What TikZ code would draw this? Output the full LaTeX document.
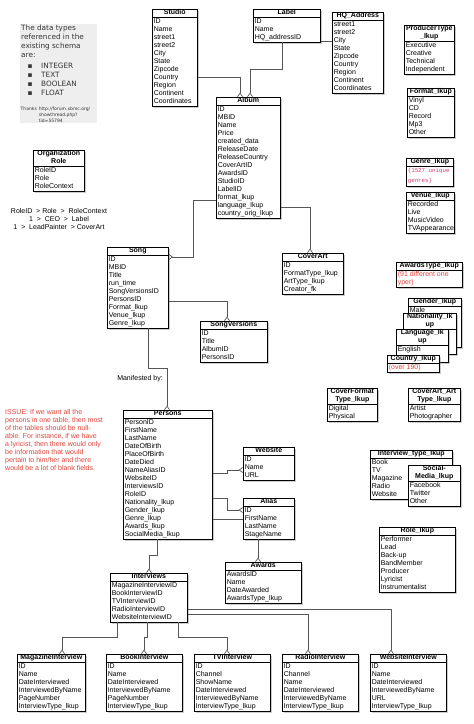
\documentclass[tikz,border=0pt]{standalone}
\usepackage{fontspec}
\setmainfont{Liberation Sans}
\newfontfamily\notefont{DejaVu Sans}
\newfontfamily\codefont{Liberation Mono}
\usetikzlibrary{arrows.meta,shadows}
\setlength{\arrayrulewidth}{0.6pt}
\definecolor{issuered}{HTML}{E2453C}
\definecolor{genrered}{HTML}{D8386A}
\definecolor{notebg}{HTML}{EEEEEE}
\definecolor{conncol}{HTML}{555555}
\definecolor{notetext}{HTML}{333333}
\newcommand{\ertab}[3]{%
\begin{tabular}{@{\hspace{1.5pt}}p{\dimexpr#1pt-1.5pt\relax}@{}}%
\multicolumn{1}{@{}c@{}}{\bfseries\begin{tabular}{@{}c@{}}#2\end{tabular}}\\\hline
#3
\end{tabular}}
\newcommand{\redtxt}[1]{\textcolor{issuered}{#1}}
\newcommand{\codetxt}[1]{\leavevmode{\codefont\fontsize{5.8}{8}\selectfont\textcolor{genrered}{#1}}}
\begin{document}
\begin{tikzpicture}[x=1pt,y=-1pt,
  tbl/.style={draw=black, line width=0.6pt, fill=white, inner sep=0pt, anchor=north west,
    font=\fontsize{7}{8}\selectfont,
    drop shadow={shadow xshift=1.2pt, shadow yshift=-1.6pt, opacity=0.4}},
  link/.style={draw=conncol, line width=0.7pt},
  manyend/.style={-{Straight Barb[reversed,length=3.5pt,width=5pt]}},
  notetxt/.style={inner sep=0pt, anchor=north west, text=notetext, font=\notefont\fontsize{7.3}{9.2}\selectfont},
  plaintxt/.style={inner sep=0pt, font=\fontsize{7}{8}\selectfont}]
\useasboundingbox (0,0) rectangle (474,724);
\fill[white] (0,0) rectangle (474,724);

% ---------- note box ----------
\node[fill=notebg, inner sep=0pt, anchor=north west, minimum width=77pt, minimum height=99pt] (note) at (20,24) {};
\node[notetxt, align=left] (notehead) at (21,24.5) {The data types\\referenced in the\\existing schema\\are:};
\node[notetxt] (notelist) at (27.5,61.5) {\begin{tabular}{@{}p{13.5pt}@{}l@{}}▪&INTEGER\\▪&TEXT\\▪&BOOLEAN\\▪&FLOAT\end{tabular}};
\node[notetxt, font=\notefont\fontsize{4.5}{6}\selectfont] (notethanks) at (20.5,106) {\begin{tabular}{@{}l@{\hspace{2pt}}l@{}}Thanks&http://forum.xbmc.org/\\&showthread.php?\\&tid=55794\end{tabular}};

% ---------- tables ----------
\node[tbl] (studio) at (152,9) {\ertab{45}{Studio}{ID\\Name\\street1\\street2\\City\\State\\Zipcode\\Country\\Region\\Continent\\Coordinates}};
\node[tbl] (label) at (253,9) {\ertab{67}{Label}{ID\\Name\\HQ\_addressID}};
\node[tbl] (hq) at (332,12) {\ertab{51}{HQ\_Address}{street1\\street2\\City\\State\\Zipcode\\Country\\Region\\Continent\\Coordinates}};
\node[tbl] (album) at (216,97) {\ertab{64}{Album}{ID\\MBID\\Name\\Price\\created\_data\\ReleaseDate\\ReleaseCountry\\CoverArtID\\AwardsID\\StudioID\\LabelID\\format\_lkup\\language\_lkup\\country\_orig\_lkup}};

\node[tbl] (producer) at (404,25) {\ertab{50}{ProducerType\\\_lkup}{Executive\\Creative\\Technical\\Independent}};
\node[tbl] (format) at (407,88) {\ertab{47}{Format\_lkup}{Vinyl\\CD\\Record\\Mp3\\Other}};
\node[tbl] (genre) at (406,158) {\ertab{47}{Genre\_lkup}{\codetxt{\{1527 unique}\rule[-4pt]{0pt}{4pt}\\\codetxt{genres\}}\rule[-4pt]{0pt}{4pt}}};
\node[tbl] (venue) at (406,192) {\ertab{48}{Venue\_lkup}{Recorded\\Live\\MusicVideo\\TVAppearance}};

\node[tbl] (orgrole) at (33,150) {\ertab{51}{Organization\\Role}{RoleID\\Role\\RoleContext}};

\node[tbl] (song) at (107,247) {\ertab{61}{Song}{ID\\MBID\\Title\\run\_time\\SongVersionsID\\PersonsID\\Format\_lkup\\Venue\_lkup\\Genre\_lkup}};
\node[tbl] (coverart) at (282,253) {\ertab{61}{CoverArt}{ID\\FormatType\_lkup\\ArtType\_lkup\\Creator\_fk}};
\node[tbl] (songversions) at (200,321) {\ertab{67}{SongVersions}{ID\\Title\\AlbumID\\PersonsID}};

\node[tbl] (awardstype) at (396,262) {\ertab{66}{AwardsType\_lkup}{\redtxt{(91 different one}\\\redtxt{yper)}}};
\node[tbl] (gender) at (408,298) {\ertab{53}{Gender\_lkup}{Male\\ \\ \\ \\ \\ }};
\node[tbl] (nationality) at (403,313) {\ertab{53}{Nationality\_lk\\up}{ \\ \\ \\ }};
\node[tbl] (language) at (396,329) {\ertab{52}{Language\_lk\\up}{English\\ \\ }};
\node[tbl] (country) at (387,355) {\ertab{52}{Country\_lkup}{\redtxt{(over 190)}}};

\node[tbl] (coverformat) at (327,388) {\ertab{50}{CoverFormat\\Type\_lkup}{Digital\\Physical}};
\node[tbl] (coverarttype) at (408,388) {\ertab{52}{CoverArt\_Art\\Type\_lkup}{Artist\\Photographer}};

\node[tbl] (persons) at (123,410) {\ertab{89}{Persons}{PersonID\\FirstName\\LastName\\DateOfBirth\\PlaceOfBirth\\DateDied\\NameAliasID\\WebsiteID\\InterviewsID\\RoleID\\Nationality\_lkup\\Gender\_lkup\\Genre\_lkup\\Awards\_lkup\\SocialMedia\_lkup}};
\node[tbl] (website) at (243,447) {\ertab{51}{Website}{ID\\Name\\URL}};
\node[tbl] (alias) at (243,498) {\ertab{51}{Alias}{ID\\FirstName\\LastName\\StageName}};
\node[tbl] (awards) at (225,562) {\ertab{76}{Awards}{AwardsID\\Name\\DateAwarded\\AwardsType\_lkup}};

\node[tbl] (interviewtype) at (370,450) {\ertab{82}{Interview\_type\_lkup}{Book\\TV\\Magazine\\Radio\\Website}};
\node[tbl] (socialmedia) at (408,465) {\ertab{52}{Social-\\Media\_lkup}{Facebook\\Twitter\\Other}};
\node[tbl] (rolelkup) at (379,527) {\ertab{76}{Role\_lkup}{Performer\\Lead\\Back-up\\BandMember\\Producer\\Lyricist\\Instrumentalist}};

\node[tbl] (interviews) at (110,573) {\ertab{77}{Interviews}{MagazineInterviewID\\BookInterviewID\\TVInterviewID\\RadioInterviewID\\WebsiteInterviewID}};
\node[tbl] (magazine) at (17,654) {\ertab{68}{MagazineInterview}{ID\\Name\\DateInterviewed\\InterviewedByName\\PageNumber\\InterviewType\_lkup}};
\node[tbl] (book) at (106,654) {\ertab{76}{BookInterview}{ID\\Name\\DateInterviewed\\InterviewedByName\\PageNumber\\InterviewType\_lkup}};
\node[tbl] (tv) at (194,654) {\ertab{76}{TVInterview}{ID\\Channel\\ShowName\\DateInterviewed\\InterviewedByName\\InterviewType\_lkup}};
\node[tbl] (radio) at (282,654) {\ertab{76}{RadioInterview}{ID\\Channel\\Name\\DateInterviewed\\InterviewedByName\\InterviewType\_lkup}};
\node[tbl] (websiteint) at (370,654) {\ertab{76}{WebsiteInterview}{ID\\Name\\DateInterviewed\\InterviewedByName\\URL\\InterviewType\_lkup}};

% ---------- free texts ----------
\node[plaintxt, align=center] (roletext) at (59,219) {RoleID\ \ > Role\ \ >\ \ RoleContext\\1\ \ >\ \ CEO\ \ >\ \ Label\\1\ \ >\ \ LeadPainter\ \ > CoverArt};
\node[plaintxt, anchor=east] (manifested) at (163,379) {Manifested by:};
\node[plaintxt, anchor=north west, align=left, text=issuered] (issue) at (5,409.5) {ISSUE: If we want all the\\persons in one table, then most\\of the tables should be null-\\able. For instance, if we have\\a lyricist, then there would only\\be information that would\\pertain to him/her and there\\would be a lot of blank fields.};

% ---------- connectors ----------
\draw[link,manyend] (studio.east |- 0,77) -| (album.north -| 240,0);
\draw[link,manyend] (label.south -| 282,0) -- (282,69) -| (album.north -| 250,0);
\draw[link] (label.east |- 0,41) -- (hq.west |- 0,41);
\draw[link,manyend] (album.west |- 0,200) -- (193,200) |- (song.east |- 0,257);
\draw[link,manyend] (album.east |- 0,207) -| (coverart.north -| 310,0);
\draw[link,manyend] (song.east |- 0,301) -| (songversions.north -| 227,0);
\draw[link,manyend] (song.south -| 148,0) -- (148,368) -| (persons.north -| 167,0);
\draw[link,manyend] (persons.east |- 0,473) -- (227,473) |- (website.west |- 0,470);
\draw[link,manyend] (persons.east |- 0,498) -- (227,498) |- (alias.west |- 0,510);
\draw[link] (persons.east |- 0,519) -- (alias.west |- 0,519);
\draw[link,manyend] (alias.south -| 258,0) -- (awards.north -| 258,0);
\draw[link,manyend] (persons.south -| 157,0) -- (157,555) -| (interviews.north -| 149,0);
\draw[link,manyend] (interviews.south -| 117,0) -- (117,637) -| (magazine.north -| 62,0);
\draw[link,manyend] (interviews.south -| 147,0) -- (147,637) -| (book.north -| 144,0);
\draw[link,manyend] (interviews.south -| 178,0) -- (178,637) -| (tv.north -| 227,0);
\draw[link,manyend] (interviews.east |- 0,614) -| (radio.north -| 308,0);
\draw[link,manyend] (interviews.east |- 0,609) -| (websiteint.north -| 391,0);
\end{tikzpicture}
\end{document}
